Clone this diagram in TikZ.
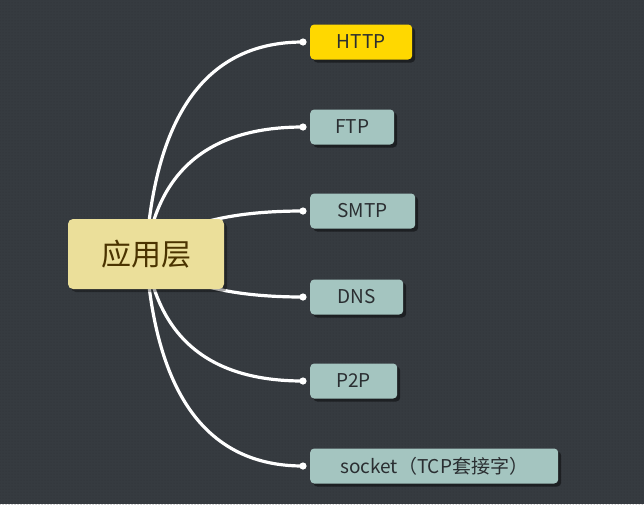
\documentclass[tikz,border=0pt]{standalone}
\usepackage{fontspec}
\setmainfont{Noto Sans CJK SC}
\usetikzlibrary{backgrounds,shadows,patterns}
\definecolor{bgc}{HTML}{363B40}
\definecolor{dotc}{HTML}{2E3236}
\definecolor{rootc}{HTML}{EBDF9A}
\definecolor{roottext}{HTML}{4A3300}
\definecolor{leafc}{HTML}{A4C5C0}
\definecolor{leaftext}{HTML}{2A2E31}
\definecolor{hotc}{HTML}{FFD800}
\tikzset{
  rootbox/.style={draw=none, fill=rootc, rounded corners=5pt, minimum width=156pt, minimum height=70pt,
    text=roottext, font=\fontsize{30}{33}\selectfont, inner sep=0pt,
    drop shadow={shadow xshift=3pt, shadow yshift=-3pt, fill=black, opacity=0.35}},
  leafbox/.style={draw=none, fill=leafc, rounded corners=4pt, minimum height=35pt, anchor=west,
    text=leaftext, font=\fontsize{19}{22}\selectfont, inner sep=0pt,
    drop shadow={shadow xshift=3pt, shadow yshift=-3pt, fill=black, opacity=0.45}},
  link/.style={draw=white, line width=3.2pt},
  enddot/.style={fill=white}
}
\begin{document}
\begin{tikzpicture}[x=1pt,y=-1pt]
\useasboundingbox (0,0) rectangle (644,504);
\node[rootbox] (c) at (146,254) {应用层};
\node[leafbox, fill=hotc, minimum width=102pt] (h) at (310,42) {HTTP};
\node[leafbox, minimum width=84pt] (f) at (310,127) {FTP};
\node[leafbox, minimum width=105pt] (s) at (310,211) {SMTP};
\node[leafbox, minimum width=93pt] (d) at (310,297) {DNS};
\node[leafbox, minimum width=87pt] (p) at (310,381) {P2P};
\node[leafbox, minimum width=248pt] (k) at (310,466) {socket（TCP套接字）};
\coordinate (eh) at (303,42);
\coordinate (ef) at (303,127);
\coordinate (es) at (303,211);
\coordinate (ed) at (303,297);
\coordinate (ep) at (303,381);
\coordinate (ek) at (303,466);
\begin{scope}[on background layer]
  \fill[bgc] (0,0) rectangle (644,504);
  \fill[pattern=dots, pattern color=dotc] (0,0) rectangle (644,504);
  \draw[link] (c.center) .. controls (155.3,112.7) and (207.7,42) .. (eh);
  \draw[link] (c.center) .. controls (158.7,168.7) and (211,127) .. (ef);
  \draw[link] (c.center) .. controls (174,225.3) and (226.3,211) .. (es);
  \draw[link] (c.center) .. controls (174,282.7) and (226.3,297) .. (ed);
  \draw[link] (c.center) .. controls (158.7,339.3) and (211,381) .. (ep);
  \draw[link] (c.center) .. controls (155.3,395.3) and (207.7,466) .. (ek);
  \foreach \e in {eh,ef,es,ed,ep,ek} \fill[enddot] (\e) circle (3.6pt);
\end{scope}
\end{tikzpicture}
\end{document}
